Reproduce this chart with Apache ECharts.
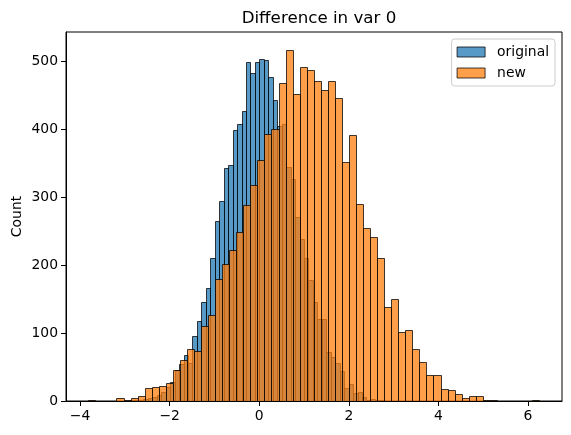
<!DOCTYPE html>
<html>
<head>
<meta charset="utf-8">
<script src="https://cdn.jsdelivr.net/npm/echarts@6/dist/echarts.min.js"></script>
<style>
  html, body { margin: 0; padding: 0; background: #fff; }
  #chart { width: 571px; height: 435px; }
</style>
</head>
<body>
<div id="chart"></div>
<script>
// bin layout (left edge of first bin, bin width)
var origStart = -2.885
var origWidth = 0.0996
var newStart = -3.817
var newWidth = 0.1573

// counts per bin, left to right
var origCounts = [
  1, 1, 2, 3, 4, 6, 9, 13, 20, 28,
  45, 54, 67, 56, 95, 117, 145, 166, 211, 265,
  294, 342, 347, 398, 407, 427, 498, 482, 498, 503,
  502, 477, 442, 404, 407, 344, 326, 271, 238, 211,
  178, 145, 121, 120, 72, 64, 56, 44, 19, 25,
  12, 13, 6, 2, 3, 2, 2
]
var newCounts = [
  1, 0, 0, 0, 5, 2, 5, 8, 19, 20,
  22, 27, 45, 61, 77, 74, 110, 126, 180, 201,
  222, 248, 288, 317, 354, 393, 400, 467, 516, 451,
  491, 487, 470, 457, 470, 446, 352, 391, 290, 254,
  241, 211, 138, 150, 101, 104, 76, 57, 38, 38,
  17, 16, 10, 5, 7, 7, 2, 1, 0, 0,
  0, 0, 0, 1
]

var xTicks = [-4, -2, 0, 2, 4, 6]
var yTicks = [0, 100, 200, 300, 400, 500]

var FONT = 'DejaVu Sans'
var blueFill = 'rgba(31,119,180,0.75)'
var orangeFill = 'rgba(255,127,14,0.75)'
var edge = 'rgba(0,0,0,0.75)'

function toBins(start, width, counts) {
  var out = []
  for (var i = 0; i < counts.length; i++) {
    if (counts[i] > 0) {
      out.push([start + i * width, start + (i + 1) * width, counts[i]])
    }
  }
  return out
}

function barRenderer(fill) {
  return function (params, api) {
    var topLeft = api.coord([api.value(0), api.value(2)])
    var bottomRight = api.coord([api.value(1), 0])
    var x0 = Math.round(topLeft[0])
    var x1 = Math.round(bottomRight[0])
    var y0 = Math.round(topLeft[1])
    var y1 = Math.round(bottomRight[1])
    return {
      type: 'rect',
      shape: { x: x0 + 0.5, y: y0 + 0.5, width: x1 - x0, height: y1 - y0 },
      style: { fill: fill, stroke: edge, lineWidth: 1 }
    }
  }
}

function minus(v) {
  return String(v).replace('-', '\u2212')
}

var option = {
  animation: false,
  backgroundColor: '#ffffff',
  title: {
    text: 'Difference in var 0',
    left: 314,
    textAlign: 'center',
    top: 5,
    textStyle: { fontFamily: FONT, fontSize: 16.7, fontWeight: 'normal', color: '#000' }
  },
  legend: {
    orient: 'vertical',
    right: 16,
    top: 39,
    padding: [6, 6, 6, 5],
    itemWidth: 28,
    itemHeight: 10,
    itemGap: 7,
    backgroundColor: 'rgba(255,255,255,0.8)',
    borderColor: '#cccccc',
    borderWidth: 1,
    borderRadius: 3,
    textStyle: { fontFamily: FONT, fontSize: 13.9, color: '#000', padding: [0, 0, 0, 7] },
    data: [
      { name: 'original', icon: 'rect', itemStyle: { color: blueFill, borderColor: edge, borderWidth: 1 } },
      { name: 'new', icon: 'rect', itemStyle: { color: orangeFill, borderColor: edge, borderWidth: 1 } }
    ]
  },
  grid: {
    left: 66,
    right: 9,
    top: 32,
    bottom: 34,
    outerBoundsMode: 'none',
    show: true,
    borderColor: '#000',
    borderWidth: 1,
    backgroundColor: 'transparent'
  },
  xAxis: {
    type: 'value',
    min: -4.315,
    max: 6.76,
    splitLine: { show: false },
    axisLine: { show: true, onZero: false, lineStyle: { color: '#000', width: 1 } },
    axisTick: { show: true, length: 5, customValues: xTicks, lineStyle: { color: '#000' } },
    axisLabel: {
      customValues: xTicks,
      formatter: minus,
      margin: 8,
      fontFamily: FONT,
      fontSize: 13.9,
      color: '#000'
    }
  },
  yAxis: {
    type: 'value',
    min: 0,
    max: 542.6,
    name: 'Count',
    nameLocation: 'middle',
    nameGap: 42,
    nameMoveOverlap: false,
    nameTextStyle: { fontFamily: FONT, fontSize: 13.9, color: '#000' },
    splitLine: { show: false },
    axisLine: { show: true, onZero: false, lineStyle: { color: '#000', width: 1 } },
    axisTick: { show: true, length: 5, customValues: yTicks, lineStyle: { color: '#000' } },
    axisLabel: {
      customValues: yTicks,
      margin: 8,
      fontFamily: FONT,
      fontSize: 13.9,
      color: '#000'
    }
  },
  series: [
    {
      name: 'original',
      type: 'custom',
      clip: true,
      itemStyle: { color: blueFill, borderColor: edge },
      encode: { x: [0, 1], y: 2 },
      renderItem: barRenderer(blueFill),
      data: toBins(origStart, origWidth, origCounts)
    },
    {
      name: 'new',
      type: 'custom',
      clip: true,
      itemStyle: { color: orangeFill, borderColor: edge },
      encode: { x: [0, 1], y: 2 },
      renderItem: barRenderer(orangeFill),
      data: toBins(newStart, newWidth, newCounts)
    }
  ]
}

var myChart = echarts.init(document.getElementById('chart'), null, { renderer: 'canvas' })
myChart.setOption(option)
</script>
</body>
</html>
